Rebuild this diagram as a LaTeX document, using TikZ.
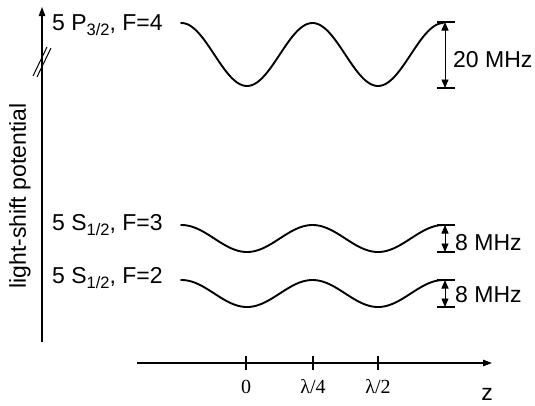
\documentclass[tikz,border=0pt]{standalone}
\usepackage{fontspec}
\setmainfont{Liberation Sans}
\newfontfamily\serifnum{Liberation Serif}
\usetikzlibrary{arrows.meta}
\newcommand\lsub[1]{\raisebox{-5pt}{\fontsize{16.5}{16.5}\selectfont #1}}
\begin{document}
\begin{tikzpicture}[x=1pt,y=-1pt,
  curve/.style={line width=1.9pt, line cap=round},
  axis/.style={line width=1.2pt},
  axtip/.style={-{Triangle[length=9pt,width=6.5pt]}},
  dbl/.style={line width=0.9pt,{Triangle[length=8.5pt,width=7pt]}-{Triangle[length=8.5pt,width=7pt]}},
  bar/.style={line width=1.2pt},
  lbl/.style={font=\fontsize{23}{27}\selectfont, inner sep=0pt, anchor=base west},
  mhz/.style={font=\fontsize{23}{27}\selectfont, inner sep=0pt, anchor=west},
  ticklbl/.style={font=\serifnum\fontsize{20}{23}\selectfont, inner sep=0pt}]
\useasboundingbox (0,0) rectangle (535,405);

% vertical axis
\coordinate (vbot) at (42,342);
\coordinate (vtop) at (42,7);
\draw[axis,axtip] (vbot) -- (vtop);
\coordinate (b1a) at (33,76); \coordinate (b1b) at (47,47);
\coordinate (b2a) at (37,77); \coordinate (b2b) at (51,48);
\draw[line width=1pt] (b1a) -- (b1b);
\draw[line width=1pt] (b2a) -- (b2b);
\node[rotate=90, font=\fontsize{23}{27}\selectfont, inner sep=0pt] (ylab) at (20,196) {light-shift potential};

% horizontal axis
\coordinate (hl) at (137,363);
\coordinate (hr) at (492,363);
\draw[axis,axtip] (hl) -- (hr);
\foreach \nm/\xx in {t0/246, t1/313, t2/378} {
  \coordinate (\nm a) at (\xx,356);
  \coordinate (\nm b) at (\xx,370);
  \draw[axis] (\nm a) -- (\nm b);
}
\node[ticklbl] (l0) at (246,387) {0};
\node[ticklbl] (l1) at (313,387) {λ/4};
\node[ticklbl] (l2) at (378,387) {λ/2};
\node[font=\fontsize{23}{27}\selectfont, inner sep=0pt, anchor=base] (zl) at (487,400) {z};

% level labels
\node[lbl] (p32) at (52,30) {5 P\lsub{3/2}, F=4};
\node[lbl] (s3) at (52,230) {5 S\lsub{1/2}, F=3};
\node[lbl] (s2) at (52,283) {5 S\lsub{1/2}, F=2};

% curves
\draw[curve] plot[domain=181:443, samples=120] (\x, {54.5+31.5*cos((\x-247)/131*360)});
\draw[curve] plot[domain=181:443, samples=120] (\x, {238.5+13.5*cos((\x-247)/131*360)});
\draw[curve] plot[domain=181:443, samples=120] (\x, {293.5+13.5*cos((\x-247)/131*360)});

% 20 MHz bracket
\coordinate (a1l) at (437,22); \coordinate (a1r) at (455,22);
\coordinate (a2l) at (437,88); \coordinate (a2r) at (455,88);
\coordinate (a1) at (445,22); \coordinate (a2) at (445,88);
\draw[bar] (a1l) -- (a1r);
\draw[bar] (a2l) -- (a2r);
\draw[dbl] (a1) -- (a2);
\node[mhz] (m20) at (453,60) {20 MHz};

% 8 MHz bracket (F=3)
\coordinate (c1l) at (437,225); \coordinate (c1r) at (455,225);
\coordinate (c2l) at (437,252); \coordinate (c2r) at (455,252);
\coordinate (c1) at (445,225); \coordinate (c2) at (445,252);
\draw[bar] (c1l) -- (c1r);
\draw[bar] (c2l) -- (c2r);
\draw[dbl] (c1) -- (c2);
\node[mhz] (m8a) at (455,243) {8 MHz};

% 8 MHz bracket (F=2)
\coordinate (d1l) at (437,280); \coordinate (d1r) at (455,280);
\coordinate (d2l) at (437,307); \coordinate (d2r) at (455,307);
\coordinate (d1) at (445,280); \coordinate (d2) at (445,307);
\draw[bar] (d1l) -- (d1r);
\draw[bar] (d2l) -- (d2r);
\draw[dbl] (d1) -- (d2);
\node[mhz] (m8b) at (455,295) {8 MHz};
\end{tikzpicture}
\end{document}
